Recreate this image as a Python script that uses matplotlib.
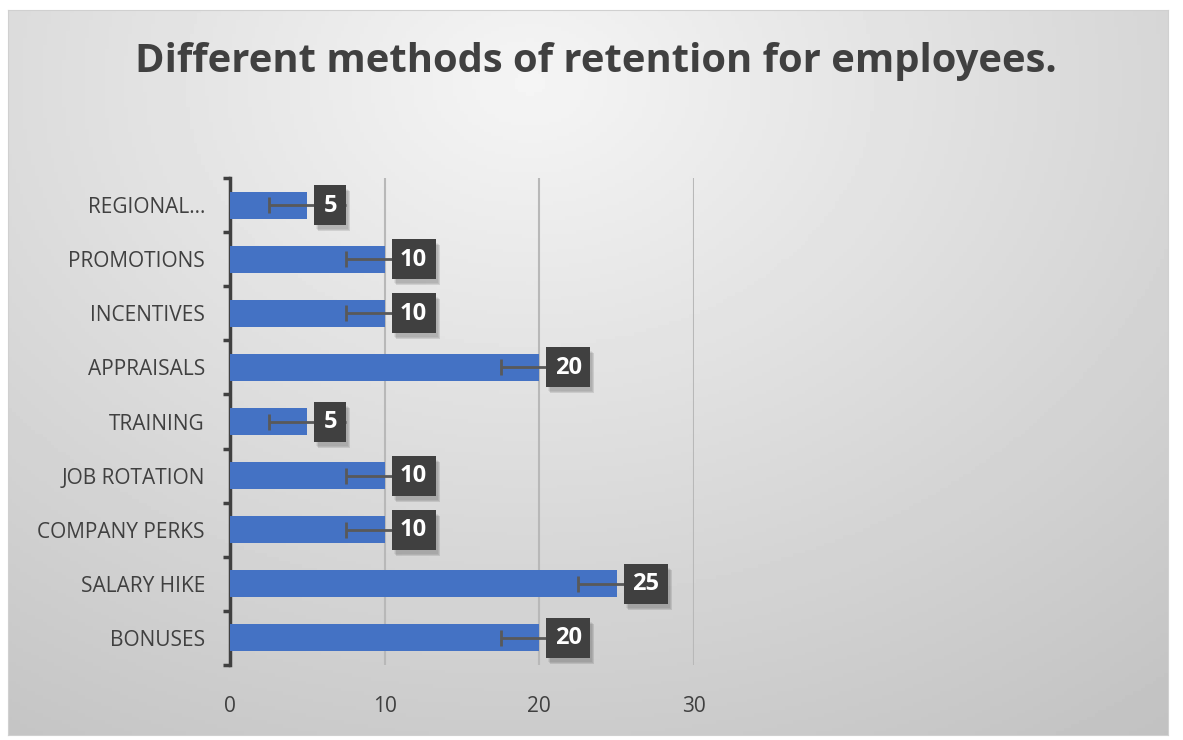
import numpy as np
import matplotlib.pyplot as plt
from matplotlib.patches import Rectangle
from matplotlib.transforms import ScaledTranslation

categories = ['BONUSES', 'SALARY HIKE', 'COMPANY PERKS', 'JOB ROTATION', 'TRAINING',
              'APPRAISALS', 'INCENTIVES', 'PROMOTIONS', 'REGIONAL...']
values = [20, 25, 10, 10, 5, 20, 10, 10, 5]
errors = [2.5, 2.5, 2.5, 2.5, 2.5, 2.5, 2.5, 2.5, 2.5]
xticks = [0, 10, 20, 30]

plt.rcParams['font.family'] = ['Open Sans', 'DejaVu Sans']

fig = plt.figure(figsize=(11.83, 7.40), dpi=100)
fig.patch.set_facecolor('white')

# background gradient
bg = fig.add_axes([0.007, 0.007, 0.98, 0.98])
yy, xx = np.mgrid[0:1:200j, 0:1:300j]
d = np.sqrt(((xx - 0.45) * 1.1) ** 2 + ((yy - 0.1) * 0.9) ** 2)
shade = 0.96 - 0.2 * d
bg.imshow(shade, cmap='gray', vmin=0, vmax=1, aspect='auto', extent=[0, 1, 1, 0])
bg.set_xticks([])
bg.set_yticks([])
for s in bg.spines.values():
    s.set_color('#d0d0d0')
bg.set_zorder(-10)

ax = fig.add_axes([0.1944, 0.1014, 0.3922, 0.658])
ax.patch.set_alpha(0)
y = np.arange(len(categories))
vals = np.array(values)
errs = np.array(errors)
ax.barh(y, vals, height=0.5, color='#4472C4', zorder=3)
# error bars: cap on the minus side, plus side runs under the label box
ax.hlines(y, vals - errs, vals + errs, color='#595959', lw=2, zorder=4)
ax.plot(vals - errs, y, ls='none', marker='|', ms=12, mew=2, color='#595959', zorder=4)

# data labels: dark boxes with a soft shadow
for xv, yv in zip(values, y):
    w = 0.32 if xv < 10 else 0.44
    h = 0.40
    tr = fig.dpi_scale_trans + ScaledTranslation(xv, yv, ax.transData)
    for k, a in enumerate([0.06, 0.08, 0.10]):
        ax.add_patch(Rectangle((0.07 + 0.02 + 0.01 * k, -h / 2 - 0.04 - 0.01 * k), w, h,
                               transform=tr, fc='black', ec='none', alpha=a, zorder=5))
    ax.add_patch(Rectangle((0.07, -h / 2), w, h, transform=tr, fc='#404040', ec='none', zorder=6))
    ax.text(0.07 + w / 2, -0.005, str(xv), transform=tr, ha='center', va='center',
            fontsize=17, fontweight='bold', color='white', zorder=7)

ax.set_xlim(0, 30)
ax.set_ylim(-0.5, len(categories) - 0.5)
ax.set_xticks(xticks)
ax.xaxis.grid(True, color='#b8b8b8', linewidth=1.5, zorder=0)
ax.set_axisbelow(True)
ax.tick_params(axis='x', length=0, pad=22, labelsize=15, labelcolor='#404040')
ax.set_yticks(y)
ax.set_yticklabels(categories)
ax.set_yticks(np.arange(-0.5, len(categories), 1), minor=True)
ax.tick_params(axis='y', which='major', length=0, pad=18, labelsize=15, labelcolor='#404040')
ax.tick_params(axis='y', which='minor', length=5, width=2.5, color='#404040', direction='out')
for k in ['top', 'right', 'bottom']:
    ax.spines[k].set_visible(False)
ax.spines['left'].set_color('#404040')
ax.spines['left'].set_linewidth(2.5)

fig.text(0.504, 0.917, 'Different methods of retention for employees.', ha='center', va='center',
         fontsize=28.8, fontweight='bold', color='#404040')

fig.savefig('out.png', dpi=100)
